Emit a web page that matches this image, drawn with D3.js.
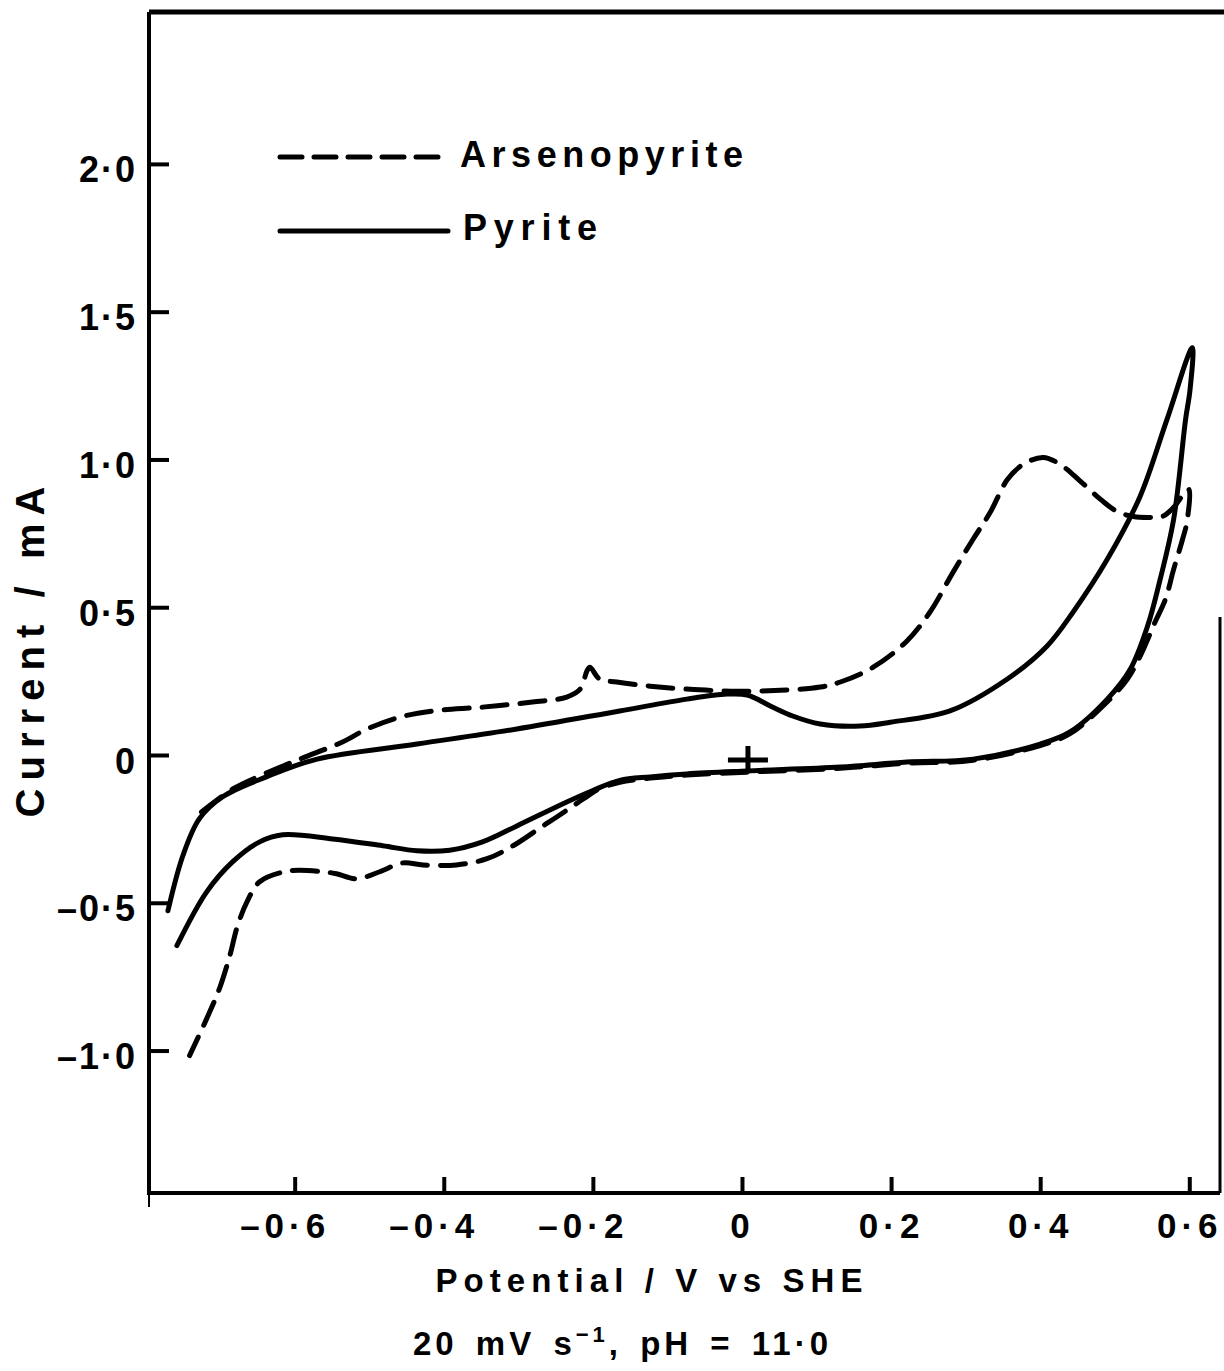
<!DOCTYPE html>
<html>
<head>
<meta charset="utf-8">
<script src="https://cdn.jsdelivr.net/npm/d3@7"></script>
<style>
  html, body { margin: 0; background: #fff; overflow: hidden; }
  svg { display: block; }
  text { font-family: 'Liberation Sans', Arial, sans-serif; font-weight: bold; fill: #000; }
</style>
</head>
<body>
<div id="main"></div>
<script>
// potential (V vs SHE), current (mA)
const pyriteForward = [
  [-0.770, -0.527], [-0.750, -0.341], [-0.728, -0.216], [-0.697, -0.142], [-0.638, -0.074],
  [-0.570, -0.014], [-0.436, 0.037], [-0.302, 0.088], [-0.164, 0.149], [-0.074, 0.189],
  [-0.020, 0.206], [0.007, 0.203], [0.038, 0.166], [0.068, 0.132], [0.105, 0.105],
  [0.158, 0.098], [0.199, 0.111], [0.279, 0.149], [0.356, 0.257], [0.409, 0.368],
  [0.444, 0.483], [0.490, 0.662], [0.534, 0.875], [0.570, 1.135], [0.604, 1.378]
];
const pyriteReverse = [
  [0.604, 1.378], [0.601, 1.236], [0.595, 1.135], [0.579, 0.797], [0.561, 0.595],
  [0.544, 0.436], [0.521, 0.291], [0.490, 0.189], [0.440, 0.078], [0.400, 0.037],
  [0.310, -0.014], [0.221, -0.024], [0.132, -0.041], [0.007, -0.054], [-0.074, -0.064],
  [-0.123, -0.074], [-0.164, -0.086], [-0.200, -0.120], [-0.235, -0.159], [-0.302, -0.240],
  [-0.348, -0.294], [-0.392, -0.322], [-0.436, -0.324], [-0.482, -0.307], [-0.549, -0.284],
  [-0.616, -0.270], [-0.647, -0.294], [-0.683, -0.361], [-0.718, -0.463], [-0.758, -0.645]
];
const arsenoForward = [
  [-0.725, -0.193], [-0.683, -0.115], [-0.647, -0.071], [-0.593, -0.014], [-0.536, 0.044],
  [-0.503, 0.088], [-0.459, 0.128], [-0.415, 0.149], [-0.348, 0.162], [-0.281, 0.179],
  [-0.235, 0.196], [-0.217, 0.223], [-0.208, 0.284], [-0.204, 0.297], [-0.191, 0.257],
  [-0.168, 0.247], [-0.123, 0.233], [-0.074, 0.223], [-0.007, 0.216], [0.060, 0.220],
  [0.105, 0.230], [0.132, 0.247], [0.176, 0.297], [0.221, 0.385], [0.252, 0.483],
  [0.283, 0.618], [0.310, 0.730], [0.333, 0.821], [0.356, 0.932], [0.377, 0.983],
  [0.404, 1.007], [0.427, 0.983], [0.454, 0.926], [0.481, 0.865], [0.503, 0.824],
  [0.525, 0.807], [0.548, 0.804], [0.564, 0.807], [0.579, 0.838], [0.599, 0.899]
];
const arsenoReverse = [
  [0.599, 0.899], [0.597, 0.791], [0.591, 0.730], [0.579, 0.628], [0.568, 0.527],
  [0.554, 0.449], [0.534, 0.334], [0.517, 0.257], [0.490, 0.180], [0.440, 0.072],
  [0.400, 0.032], [0.310, -0.018], [0.221, -0.028], [0.132, -0.045], [0.007, -0.058],
  [-0.074, -0.068], [-0.123, -0.078], [-0.164, -0.092], [-0.192, -0.115], [-0.213, -0.149],
  [-0.248, -0.209], [-0.267, -0.240], [-0.307, -0.307], [-0.342, -0.351], [-0.383, -0.372],
  [-0.428, -0.372], [-0.455, -0.365], [-0.486, -0.395], [-0.517, -0.419], [-0.544, -0.402],
  [-0.562, -0.395], [-0.607, -0.392], [-0.647, -0.429], [-0.664, -0.497], [-0.677, -0.581],
  [-0.687, -0.679], [-0.701, -0.791], [-0.718, -0.892], [-0.741, -1.017]
];
const crossMark = [0.008, -0.017];

const xTicks = [-0.6, -0.4, -0.2, 0, 0.2, 0.4, 0.6];
const yTicks = [2.0, 1.5, 1.0, 0.5, 0, -0.5, -1.0];
const legendNames = ['Arsenopyrite', 'Pyrite'];

const width = 1224;
const height = 1371;
const margin = { top: 12, right: 4, bottom: 178, left: 149 };
const innerWidth = width - margin.left - margin.right;
const innerHeight = height - margin.top - margin.bottom;

const svg = d3.select('#main')
  .append('svg')
  .attr('width', width)
  .attr('height', height);

const g = svg.append('g')
  .attr('transform', `translate(${margin.left},${margin.top})`);

const xScale = d3.scaleLinear()
  .domain([-0.7954, 0.6412])
  .range([0, innerWidth]);

const yScale = d3.scaleLinear()
  .domain([2.514, -1.482])
  .range([0, innerHeight]);

const fmt = d => d === 0 ? '0' : (d < 0 ? '–' : '') + Math.abs(d).toFixed(1).replace('.', '·');

// frame
const frame = d3.path();
frame.moveTo(0, 0); frame.lineTo(0, innerHeight); frame.lineTo(innerWidth, innerHeight);
g.append('path').attr('d', frame.toString())
  .attr('fill', 'none').attr('stroke', '#000').attr('stroke-width', 4);
g.append('line')
  .attr('x1', 0).attr('x2', width - margin.left).attr('y1', 0).attr('y2', 0)
  .attr('stroke', '#000').attr('stroke-width', 5);
g.append('line')
  .attr('x1', innerWidth).attr('x2', innerWidth).attr('y1', 605).attr('y2', innerHeight)
  .attr('stroke', '#000').attr('stroke-width', 3);
g.append('line')
  .attr('x1', 0).attr('x2', 0).attr('y1', innerHeight).attr('y2', innerHeight + 14)
  .attr('stroke', '#000').attr('stroke-width', 2);

// axes
const yAxis = d3.axisLeft(yScale)
  .tickValues(yTicks)
  .tickSize(-20)
  .tickPadding(12)
  .tickFormat(fmt);
const yAxisG = g.append('g').call(yAxis);
yAxisG.select('.domain').remove();
yAxisG.selectAll('line').attr('stroke-width', 4);
yAxisG.selectAll('text')
  .attr('font-size', 36)
  .attr('dy', '0.5em')
  .attr('letter-spacing', 2);

const xAxis = d3.axisBottom(xScale)
  .tickValues(xTicks)
  .tickSize(-16)
  .tickPadding(20)
  .tickFormat(fmt);
const xAxisG = g.append('g').call(xAxis)
  .attr('transform', `translate(0,${innerHeight})`);
xAxisG.select('.domain').remove();
xAxisG.selectAll('line').attr('stroke-width', 4);
xAxisG.selectAll('text')
  .attr('font-size', 35)
  .attr('letter-spacing', 5)
  .attr('dx', d => d < 0 ? -10 : 0);
svg.selectAll('.tick text').attr('fill', '#000');
svg.selectAll('g[font-family]').attr('font-family', null);

// curves
const lineGenerator = d3.line()
  .x(d => xScale(d[0]))
  .y(d => yScale(d[1]))
  .curve(d3.curveCatmullRom.alpha(0.5));

g.append('path')
  .attr('d', lineGenerator(arsenoForward.concat(arsenoReverse.slice(1))))
  .attr('fill', 'none')
  .attr('stroke', '#000')
  .attr('stroke-width', 5)
  .attr('stroke-linecap', 'round')
  .attr('stroke-dasharray', '25,13');

g.append('path')
  .attr('d', lineGenerator(pyriteForward.concat(pyriteReverse.slice(1))))
  .attr('fill', 'none')
  .attr('stroke', '#000')
  .attr('stroke-width', 5)
  .attr('stroke-linecap', 'round');

// start marker
const cx = xScale(crossMark[0]);
const cy = yScale(crossMark[1]);
g.append('path')
  .attr('d', `M${cx - 20},${cy}h40M${cx},${cy - 14}v26`)
  .attr('fill', 'none')
  .attr('stroke', '#000')
  .attr('stroke-width', 5);

// legend
const legend = svg.append('g');
legend.append('line')
  .attr('x1', 280).attr('x2', 448).attr('y1', 157).attr('y2', 157)
  .attr('stroke', '#000').attr('stroke-width', 5)
  .attr('stroke-linecap', 'round').attr('stroke-dasharray', '22,12');
legend.append('line')
  .attr('x1', 280).attr('x2', 448).attr('y1', 231).attr('y2', 231)
  .attr('stroke', '#000').attr('stroke-width', 5).attr('stroke-linecap', 'round');
legend.append('text')
  .attr('x', 460).attr('y', 167)
  .attr('font-size', 36)
  .attr('textLength', 283).attr('lengthAdjust', 'spacing')
  .text(legendNames[0]);
legend.append('text')
  .attr('x', 463).attr('y', 240)
  .attr('font-size', 36)
  .attr('textLength', 134).attr('lengthAdjust', 'spacing')
  .text(legendNames[1]);

// axis labels
svg.append('text')
  .attr('transform', 'translate(44,652) rotate(-90)')
  .attr('text-anchor', 'middle')
  .attr('font-size', 40)
  .attr('textLength', 331).attr('lengthAdjust', 'spacing')
  .text('Current / mA');

svg.append('text')
  .attr('x', 649).attr('y', 1292)
  .attr('text-anchor', 'middle')
  .attr('font-size', 33)
  .attr('textLength', 427).attr('lengthAdjust', 'spacing')
  .text('Potential / V vs SHE');

const sub = svg.append('text')
  .attr('x', 413).attr('y', 1355)
  .attr('font-size', 33)
  .attr('letter-spacing', 4)
  .attr('word-spacing', 5);
sub.append('tspan').text('20 mV s');
sub.append('tspan').attr('font-size', 22).attr('dy', -13).text('−1');
sub.append('tspan').attr('dy', 13).text(', pH = 11·0');
</script>
</body>
</html>
